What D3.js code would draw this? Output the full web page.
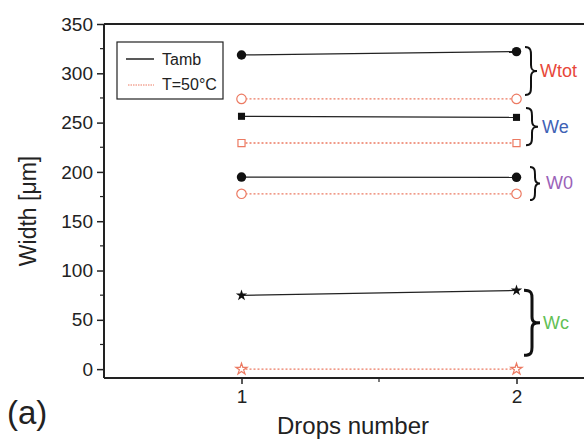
<!DOCTYPE html>
<html>
<head>
<meta charset="utf-8"/>
<style>
  body { margin: 0; background: #fff; }
  text { font-family: Arial, "Liberation Sans", sans-serif; }
</style>
</head>
<body>
<div id="chart"></div>
<script src="https://cdn.jsdelivr.net/npm/d3@7"></script>
<script>
// data
var drops = [1, 2];
var groups = ["Wtot", "We", "W0", "Wc"];
var tamb = [[318.6, 322], [256.4, 255.3], [194.8, 194.5], [74.8, 79.8]];
var t50 = [[274, 274], [229.3, 229.3], [177.8, 177.8], [0, 0]];
var symbols = [d3.symbolCircle, d3.symbolSquare, d3.symbolCircle, d3.symbolStar];
var symSize = [70, 50, 70, 40];
var groupColors = ["#e8473a", "#3f62b5", "#9b62b8", "#62c055"];
// brace extents (data units)
var braceLo = [278, 227, 171.5, 14];
var braceHi = [326.6, 264.8, 205, 80];
var yTicks = [0, 50, 100, 150, 200, 250, 300, 350];

var W = 584, H = 440;
var red = "#ec7a62";
var font = "Arial, 'Liberation Sans', sans-serif";

var svg = d3.select("#chart").append("svg").attr("width", W).attr("height", H);

var x = d3.scaleLinear().domain([0.5, 2.5]).range([104, 654]);
var y = d3.scaleLinear().domain([-9, 350]).range([378, 24]);

// frame (top)
svg.append("line").attr("x1", 104).attr("x2", W).attr("y1", y(350)).attr("y2", y(350))
  .attr("stroke", "#222").attr("stroke-width", 2);

// y axis
var yAx = svg.append("g").attr("transform", "translate(104,0)")
  .call(d3.axisLeft(y).tickValues(yTicks).tickSize(7).tickPadding(4));
yAx.select(".domain").attr("stroke", "#222").attr("stroke-width", 2)
  .attr("d", "M0," + y(-9) + "V" + y(350));
yAx.selectAll("line").attr("stroke", "#222").attr("stroke-width", 1.5);
yAx.selectAll("text").attr("font-size", 19).attr("fill", "#222").style("font-family", font);
var minorY = d3.range(25, 350, 50);
svg.selectAll(".ymin").data(minorY).enter().append("line")
  .attr("x1", 100).attr("x2", 104).attr("y1", d => y(d)).attr("y2", d => y(d))
  .attr("stroke", "#222").attr("stroke-width", 1.2);

// x axis
var xAx = svg.append("g").attr("transform", "translate(0," + y(-9) + ")")
  .call(d3.axisBottom(x).tickValues(drops).tickFormat(d3.format("d")).tickSize(6).tickPadding(6));
xAx.select(".domain").attr("stroke", "#222").attr("stroke-width", 2)
  .attr("d", "M104,0H" + W);
xAx.selectAll("line").attr("stroke", "#222").attr("stroke-width", 1.5);
xAx.selectAll("text").attr("font-size", 19).attr("fill", "#222").style("font-family", font);
svg.append("line").attr("x1", x(1.5)).attr("x2", x(1.5)).attr("y1", y(-9)).attr("y2", y(-9) + 4)
  .attr("stroke", "#222").attr("stroke-width", 1.2);

// axis titles
svg.append("text").attr("transform", "translate(36,211) rotate(-90)")
  .attr("text-anchor", "middle").attr("font-size", 23).attr("fill", "#222").text("Width [μm]");
svg.append("text").attr("x", 353).attr("y", 434).attr("text-anchor", "middle")
  .attr("font-size", 24).attr("fill", "#222").text("Drops number");
svg.append("text").attr("x", 7).attr("y", 424).attr("font-size", 33).attr("fill", "#222").text("(a)");

var line = d3.line().x((d, i) => x(drops[i])).y(d => y(d));

// T=50°C series
groups.forEach(function(g, k) {
  svg.append("path").datum(t50[k]).attr("d", line).attr("fill", "none")
    .attr("stroke", red).attr("stroke-width", 1.3).attr("stroke-dasharray", "2,2");
  t50[k].forEach(function(v, i) {
    svg.append("path")
      .attr("d", d3.symbol().type(symbols[k]).size(symSize[k])())
      .attr("transform", "translate(" + x(drops[i]) + "," + y(v) + ")")
      .attr("fill", "#fff").attr("stroke", red).attr("stroke-width", 1.2);
  });
});

// Tamb series
groups.forEach(function(g, k) {
  svg.append("path").datum(tamb[k]).attr("d", line).attr("fill", "none")
    .attr("stroke", "#222").attr("stroke-width", 1.3);
  tamb[k].forEach(function(v, i) {
    svg.append("path")
      .attr("d", d3.symbol().type(symbols[k]).size(symSize[k])())
      .attr("transform", "translate(" + x(drops[i]) + "," + y(v) + ")")
      .attr("fill", "#111");
  });
});

// braces
function brace(x0, y0, y1, w) {
  var m = (y0 + y1) / 2, q = w / 2;
  return "M" + x0 + "," + y0 +
    "C" + (x0 + q) + "," + y0 + " " + (x0 + q) + "," + (y0 + 4) + " " + (x0 + q) + "," + (y0 + 8) +
    "L" + (x0 + q) + "," + (m - 6) +
    "C" + (x0 + q) + "," + (m - 1) + " " + (x0 + q + 2) + "," + m + " " + (x0 + w) + "," + m +
    "C" + (x0 + q + 2) + "," + m + " " + (x0 + q) + "," + (m + 1) + " " + (x0 + q) + "," + (m + 6) +
    "L" + (x0 + q) + "," + (y1 - 8) +
    "C" + (x0 + q) + "," + (y1 - 4) + " " + (x0 + q) + "," + y1 + " " + x0 + "," + y1;
}
var braceX = [525, 526, 530, 524];
var braceW = [12, 12, 10, 16];
var labelX = [540, 542, 546, 543];
groups.forEach(function(g, k) {
  var yt = y(braceHi[k]), yb = y(braceLo[k]);
  svg.append("path").attr("d", brace(braceX[k], yt, yb, braceW[k]))
    .attr("fill", "none").attr("stroke", "#111").attr("stroke-width", k == 3 ? 3 : 2);
  svg.append("text").attr("x", labelX[k]).attr("y", (yt + yb) / 2 + 6)
    .attr("font-size", 18).attr("fill", groupColors[k]).text(g);
});

// legend
var lg = svg.append("g");
lg.append("rect").attr("x", 117).attr("y", 42).attr("width", 106).attr("height", 57)
  .attr("fill", "#fff").attr("stroke", "#222").attr("stroke-width", 1.2);
lg.append("line").attr("x1", 126).attr("x2", 154).attr("y1", 59).attr("y2", 59)
  .attr("stroke", "#222").attr("stroke-width", 1.5);
lg.append("line").attr("x1", 128).attr("x2", 154).attr("y1", 85).attr("y2", 85)
  .attr("stroke", red).attr("stroke-width", 1).attr("stroke-dasharray", "1.5,1");
lg.append("text").attr("x", 162).attr("y", 65).attr("font-size", 16).attr("fill", "#222").text("Tamb");
lg.append("text").attr("x", 162).attr("y", 90).attr("font-size", 16).attr("fill", "#222").text("T=50°C");
</script>
</body>
</html>
